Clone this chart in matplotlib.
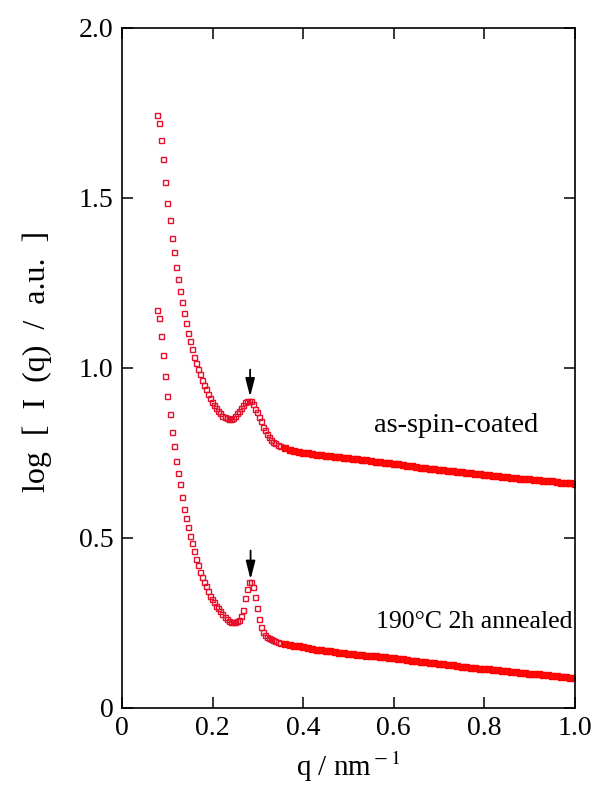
import matplotlib
matplotlib.use("Agg")
import matplotlib.pyplot as plt

plt.rcParams['font.family'] = ['Liberation Serif', 'DejaVu Serif']
plt.rcParams['mathtext.fontset'] = 'stix'

# q grid of the low-q region (shared by both samples)
q_low = [0.078, 0.0825, 0.087, 0.0915, 0.096, 0.1005, 0.105, 0.1095, 0.114, 0.1185,
         0.123, 0.1275, 0.132, 0.1365, 0.141, 0.1455, 0.150, 0.1545, 0.159, 0.1635,
         0.168, 0.1725, 0.177, 0.1815, 0.186, 0.1905, 0.195, 0.1995, 0.204, 0.2085,
         0.213, 0.2175, 0.222, 0.2265, 0.231, 0.2355, 0.240, 0.2445, 0.249, 0.2535,
         0.258, 0.2625, 0.267, 0.2715, 0.276, 0.2805, 0.285, 0.2895, 0.294, 0.2985,
         0.303, 0.3075, 0.312, 0.3165, 0.321, 0.3255, 0.330, 0.3345, 0.339, 0.3435,
         0.348]
# q grid of the tail
q_high = [0.36, 0.37, 0.38, 0.39, 0.40, 0.41, 0.42, 0.43, 0.44, 0.45,
          0.46, 0.47, 0.48, 0.49, 0.50, 0.51, 0.52, 0.53, 0.54, 0.55,
          0.56, 0.57, 0.58, 0.59, 0.60, 0.61, 0.62, 0.63, 0.64, 0.65,
          0.66, 0.67, 0.68, 0.69, 0.70, 0.71, 0.72, 0.73, 0.74, 0.75,
          0.76, 0.77, 0.78, 0.79, 0.80, 0.81, 0.82, 0.83, 0.84, 0.85,
          0.86, 0.87, 0.88, 0.89, 0.90, 0.91, 0.92, 0.93, 0.94, 0.95,
          0.96, 0.97, 0.98, 0.99, 1.00]

# as-spin-coated
spin_low = [1.745, 1.721, 1.670, 1.613, 1.548, 1.485, 1.434, 1.382, 1.340, 1.298,
            1.260, 1.226, 1.193, 1.160, 1.132, 1.104, 1.080, 1.057, 1.033, 1.015,
            0.996, 0.981, 0.963, 0.951, 0.939, 0.924, 0.911, 0.901, 0.891, 0.881,
            0.874, 0.866, 0.860, 0.856, 0.853, 0.851, 0.851, 0.854, 0.859, 0.866,
            0.874, 0.882, 0.891, 0.899, 0.903, 0.904, 0.903, 0.895, 0.880, 0.869,
            0.856, 0.843, 0.827, 0.817, 0.806, 0.797, 0.789, 0.783, 0.778, 0.774,
            0.771]
spin_high = [0.764, 0.760, 0.757, 0.754, 0.751, 0.749, 0.747, 0.745, 0.744, 0.742,
             0.740, 0.739, 0.737, 0.736, 0.734, 0.732, 0.731, 0.729, 0.728, 0.726,
             0.724, 0.723, 0.721, 0.720, 0.718, 0.716, 0.714, 0.713, 0.711, 0.709,
             0.707, 0.705, 0.704, 0.702, 0.700, 0.699, 0.697, 0.696, 0.694, 0.693,
             0.691, 0.690, 0.688, 0.687, 0.685, 0.684, 0.682, 0.681, 0.679, 0.678,
             0.677, 0.675, 0.674, 0.673, 0.672, 0.671, 0.669, 0.668, 0.667, 0.666,
             0.665, 0.663, 0.662, 0.661, 0.660]

# 190 C 2h annealed
ann_low = [1.171, 1.146, 1.095, 1.038, 0.976, 0.916, 0.864, 0.812, 0.770, 0.727,
           0.690, 0.658, 0.619, 0.585, 0.559, 0.533, 0.506, 0.486, 0.463, 0.439,
           0.420, 0.401, 0.386, 0.371, 0.359, 0.344, 0.330, 0.320, 0.312, 0.301,
           0.293, 0.284, 0.275, 0.269, 0.262, 0.256, 0.253, 0.252, 0.252, 0.255,
           0.260, 0.271, 0.288, 0.324, 0.350, 0.371, 0.371, 0.356, 0.326, 0.294,
           0.262, 0.238, 0.224, 0.216, 0.210, 0.206, 0.202, 0.199, 0.196, 0.194,
           0.192]
ann_high = [0.187, 0.185, 0.183, 0.181, 0.179, 0.177, 0.174, 0.172, 0.170, 0.168,
            0.167, 0.165, 0.163, 0.161, 0.160, 0.159, 0.157, 0.156, 0.154, 0.153,
            0.152, 0.150, 0.149, 0.147, 0.146, 0.144, 0.143, 0.141, 0.139, 0.138,
            0.136, 0.134, 0.132, 0.131, 0.129, 0.128, 0.126, 0.125, 0.123, 0.122,
            0.121, 0.119, 0.118, 0.116, 0.115, 0.114, 0.113, 0.111, 0.110, 0.109,
            0.107, 0.106, 0.104, 0.102, 0.101, 0.100, 0.099, 0.097, 0.096, 0.095,
            0.093, 0.091, 0.090, 0.088, 0.087]

peak_q = [0.283, 0.284]
peak_tip = [0.915, 0.378]
peak_tail = [0.995, 0.463]

x_ticks = [0, 0.2, 0.4, 0.6, 0.8, 1.0]
x_labels = ['0', '0.2', '0.4', '0.6', '0.8', '1.0']
y_ticks = [0, 0.5, 1.0, 1.5, 2.0]
y_labels = ['0', '0.5', '1.0', '1.5', '2.0']

red = '#e5102c'

fig = plt.figure(figsize=(5.95, 7.9), dpi=100)
ax = fig.add_axes([0.205, 0.1038, 0.761, 0.861])

for ql, yl, qh, yh in [(q_low, spin_low, q_high, spin_high), (q_low, ann_low, q_high, ann_high)]:
    ax.plot(ql, yl, linestyle='none', marker='s', markersize=3.6,
            markerfacecolor='none', markeredgecolor=red, markeredgewidth=1.0)
    ax.plot(qh, yh, linestyle='none', marker='s', markersize=4.2,
            markerfacecolor='#ff0a0a', markeredgecolor='#ff0000', markeredgewidth=1.0)

for q, tip, tail in zip(peak_q, peak_tip, peak_tail):
    ax.annotate('', xy=(q, tip), xytext=(q, tail),
                arrowprops=dict(arrowstyle='-|>,head_length=1.1,head_width=0.28',
                                color='black', lw=1.3, mutation_scale=10,
                                shrinkA=0, shrinkB=0))

ax.text(0.737, 0.813, 'as-spin-coated', ha='center', va='baseline', fontsize=20.5)
ax.text(0.777, 0.234, '190\u00b0C 2h annealed', ha='center', va='baseline', fontsize=18.5)

ax.set_xlim(0, 1.0)
ax.set_ylim(0, 2.0)
ax.set_xticks(x_ticks)
ax.set_xticklabels(x_labels)
ax.set_yticks(y_ticks)
ax.set_yticklabels(y_labels)
ax.tick_params(direction='in', length=8, width=1.1, labelsize=20,
               top=True, right=True, pad=6)
for s in ax.spines.values():
    s.set_linewidth(1.2)

fig.text(0.062, 0.542, 'log  [  I  (q)  /  a.u.  ]', rotation=90, ha='center', va='center', fontsize=23)
fig.text(0.585, 0.018, r'q / nm$^{\rm -1}$', ha='center', va='baseline', fontsize=21)

fig.savefig('out.png', dpi=100)
